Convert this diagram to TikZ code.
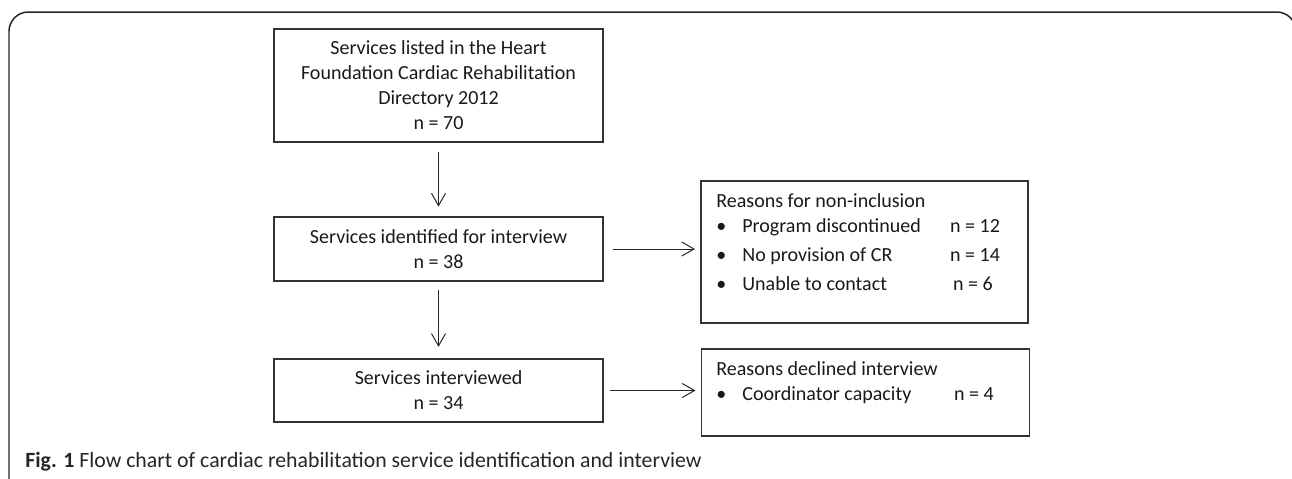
\documentclass[tikz,border=0pt]{standalone}
\usepackage{fontspec}
\setmainfont{Carlito}
\usetikzlibrary{arrows.meta}

\begin{document}
\begin{tikzpicture}[x=0.02cm,y=-0.02cm]
    \tikzset{
      flowbox/.style={draw=black!80,line width=0.3mm,minimum width=6.58cm,
        align=center,inner sep=0mm,text=black!90,
        font=\fontsize{11.4}{14.2}\selectfont},
      reasonbox/.style={draw=black!80,line width=0.3mm,inner sep=0mm},
      reasontext/.style={anchor=base west,inner sep=0mm,text=black!90,
        font=\fontsize{11.4}{14.7}\selectfont},
      flowarrow/.style={draw=black!85,line width=0.2mm,
        -{Straight Barb[length=7pt,width=8pt]}},
    }
    \useasboundingbox (0,0) rectangle (1292,478);

        %FRAME
        \draw[black!85,line width=0.3mm,rounded corners=11] (9,490) -- (9,12) -- (1296,12) -- (1296,490);

        %BOXES LEFT
        \node[flowbox,minimum height=2.26cm] (listed) at (438.5,85.5)
          {Services listed in the Heart\\Foundation Cardiac Rehabilitation\\Directory 2012\\n = 70};
        \node[flowbox,minimum height=1.28cm] (identified) at (438.5,249)
          {Services identified for interview\\n = 38};
        \node[flowbox,minimum height=1.26cm] (interviewed) at (438.5,390.5)
          {Services interviewed\\n = 34};

        %BOXES RIGHT
        \node[reasonbox,minimum width=6.54cm,minimum height=2.84cm] (nonincl) at (864.5,252) {};
        \node[reasonbox,minimum width=6.56cm,minimum height=1.74cm] (declined) at (865.5,392.5) {};

        \node[reasontext] (nonincltxt) at (716,207) {%
          \begin{tabular}[t]{@{}p{14.8pt}@{}p{118.3pt}@{}l@{}}
            \multicolumn{3}{@{}l@{}}{Reasons for non-inclusion}\\
            \textbullet & Program discontinued & n = 12\\[1.7pt]
            \textbullet & No provision of CR & n = 14\\[1.7pt]
            \textbullet & Unable to contact & \hspace{1.7pt}n = 6
          \end{tabular}};
        \node[reasontext] (declinedtxt) at (716,375) {%
          \begin{tabular}[t]{@{}p{14.8pt}@{}p{120.6pt}@{}l@{}}
            \multicolumn{3}{@{}l@{}}{Reasons declined interview}\\
            \textbullet & Coordinator capacity & n = 4
          \end{tabular}};

        %ARROWS
        \draw[flowarrow,shorten <=5.5pt,shorten >=5.5pt] (listed) -- (identified);
        \draw[flowarrow,shorten <=4.5pt,shorten >=6.5pt] (identified) -- (interviewed);
        \draw[flowarrow,shorten <=5pt,shorten >=3pt] (identified) -- (identified -| nonincl.west);
        \draw[flowarrow,shorten <=3.5pt,shorten >=3pt] (interviewed) -- (interviewed -| declined.west);

        %CAPTION
        \node[anchor=base west,inner sep=0mm,text=black!85,font=\fontsize{12.4}{15}\selectfont] (caption) at (25,467)
          {\textbf{Fig. 1} Flow chart of cardiac rehabilitation service identification and interview};
\end{tikzpicture}
\end{document}
